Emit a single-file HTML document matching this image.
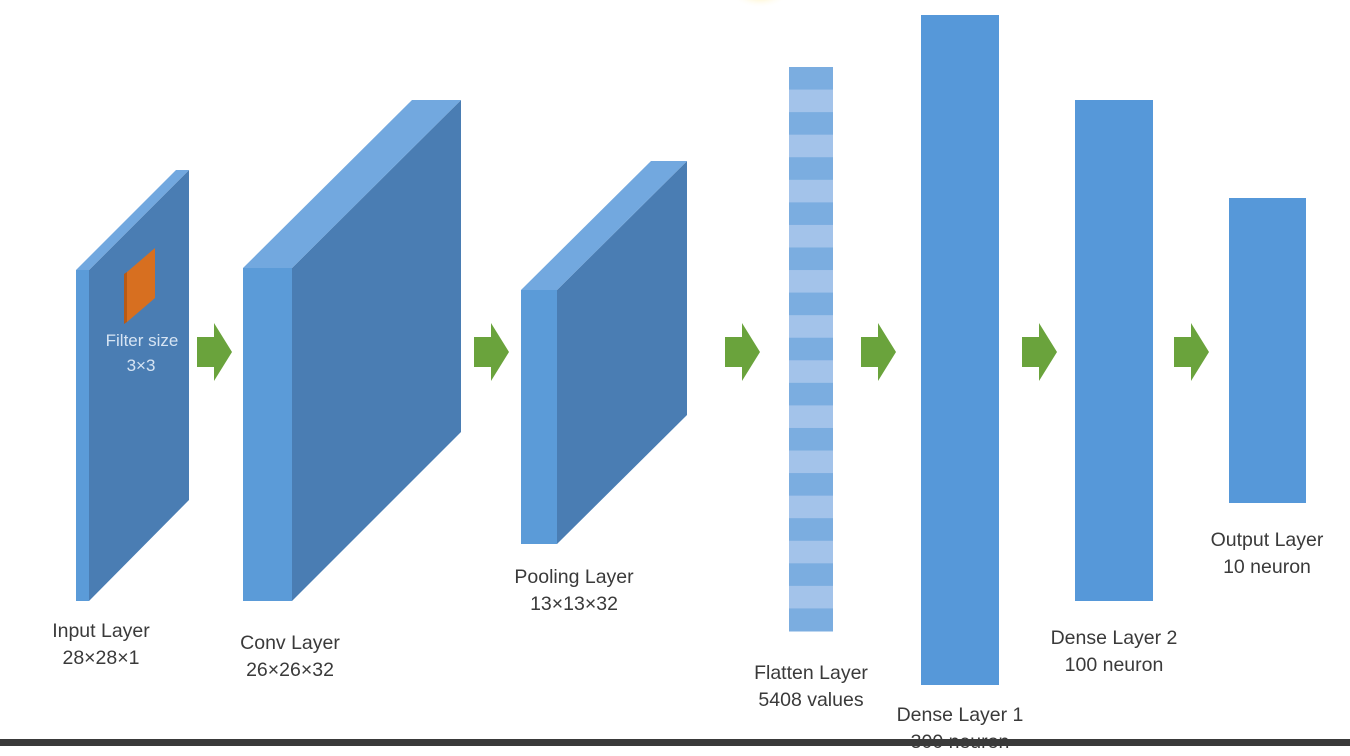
<!DOCTYPE html>
<html><head><meta charset="utf-8"><style>
body{margin:0;width:1350px;height:746px;background:#fff;overflow:hidden;position:relative;font-family:"Liberation Sans",sans-serif}
.lbl{position:absolute;color:#3a3a3a;font-size:19.5px;line-height:27px;text-align:center;white-space:nowrap}
</style></head><body>
<svg width="1350" height="746" style="position:absolute;left:0;top:0">
<defs><radialGradient id="glow"><stop offset="0" stop-color="#ffe680"/><stop offset="1" stop-color="#fff" stop-opacity="0"/></radialGradient></defs>
<ellipse cx="760" cy="-8" rx="30" ry="16" fill="url(#glow)"/>
<g>
<polygon points="89,270 189,170 189,500 89,601" fill="#4a7db3"/>
<polygon points="76,270 176,170 189,170 89,270" fill="#72a8df"/>
<rect x="76" y="270" width="13" height="331" fill="#5b9bd8"/>
<polygon points="127,272 155,248 155,298 127,322" fill="#d76f20"/>
<polygon points="124,274 127,272 127,322 124,324" fill="#b85a15"/>
<text x="142" y="346" fill="#d6e4f3" font-size="17" text-anchor="middle">Filter size</text>
<text x="141" y="371" fill="#d6e4f3" font-size="17" text-anchor="middle">3×3</text>
</g>
<g>
<polygon points="292,268 461,100 461,432 292,601" fill="#4a7db3"/>
<polygon points="243,268 412,100 461,100 292,268" fill="#72a8df"/>
<rect x="243" y="268" width="49" height="333" fill="#5b9bd8"/>
</g>
<g>
<polygon points="557,290 687,161 687,415 557,544" fill="#4a7db3"/>
<polygon points="521,290 651,161 687,161 557,290" fill="#72a8df"/>
<rect x="521" y="290" width="36" height="254" fill="#5b9bd8"/>
</g>
<g id="flat"></g>
<rect x="921" y="15" width="78" height="670" fill="#5698d9"/>
<rect x="1075" y="100" width="78" height="501" fill="#5698d9"/>
<rect x="1229" y="198" width="77" height="305" fill="#5698d9"/>
<g id="arrows"></g>
<rect x="0" y="739" width="1350" height="7" fill="#3a3a3a"/>
</svg>
<div class="lbl" style="left:40px;top:618px;width:122px">Input Layer<br>28×28×1</div>
<div class="lbl" style="left:228px;top:630px;width:124px">Conv Layer<br>26×26×32</div>
<div class="lbl" style="left:500px;top:564px;width:148px">Pooling Layer<br>13×13×32</div>
<div class="lbl" style="left:740px;top:660px;width:142px">Flatten Layer<br>5408 values</div>
<div class="lbl" style="left:880px;top:702px;width:160px">Dense Layer 1<br>300 neuron</div>
<div class="lbl" style="left:1034px;top:625px;width:160px">Dense Layer 2<br>100 neuron</div>
<div class="lbl" style="left:1190px;top:527px;width:154px">Output Layer<br>10 neuron</div>
<script>
var ns="http://www.w3.org/2000/svg";
var arrowXs=[197,474,725,861,1022,1174];
var stripeCount=25;
var g=document.getElementById('flat');
var h=(631-67)/stripeCount;
for(var i=0;i<stripeCount;i++){
var r=document.createElementNS(ns,'rect');
r.setAttribute('x',789);r.setAttribute('y',67+i*h);r.setAttribute('width',44);r.setAttribute('height',h+0.5);
r.setAttribute('fill',i%2?'#a3c3ea':'#7badE0');


g.appendChild(r);}
var a=document.getElementById('arrows');
arrowXs.forEach(function(x){
var p=document.createElementNS(ns,'polygon');
p.setAttribute('points',[x,337,x+17,337,x+17,323,x+35,352,x+17,381,x+17,367,x,367].join(' ').replace(/(\d+) (\d+)/g,'$1,$2'));
p.setAttribute('fill','#6aa33c');


a.appendChild(p);});
</script>
</body></html>
